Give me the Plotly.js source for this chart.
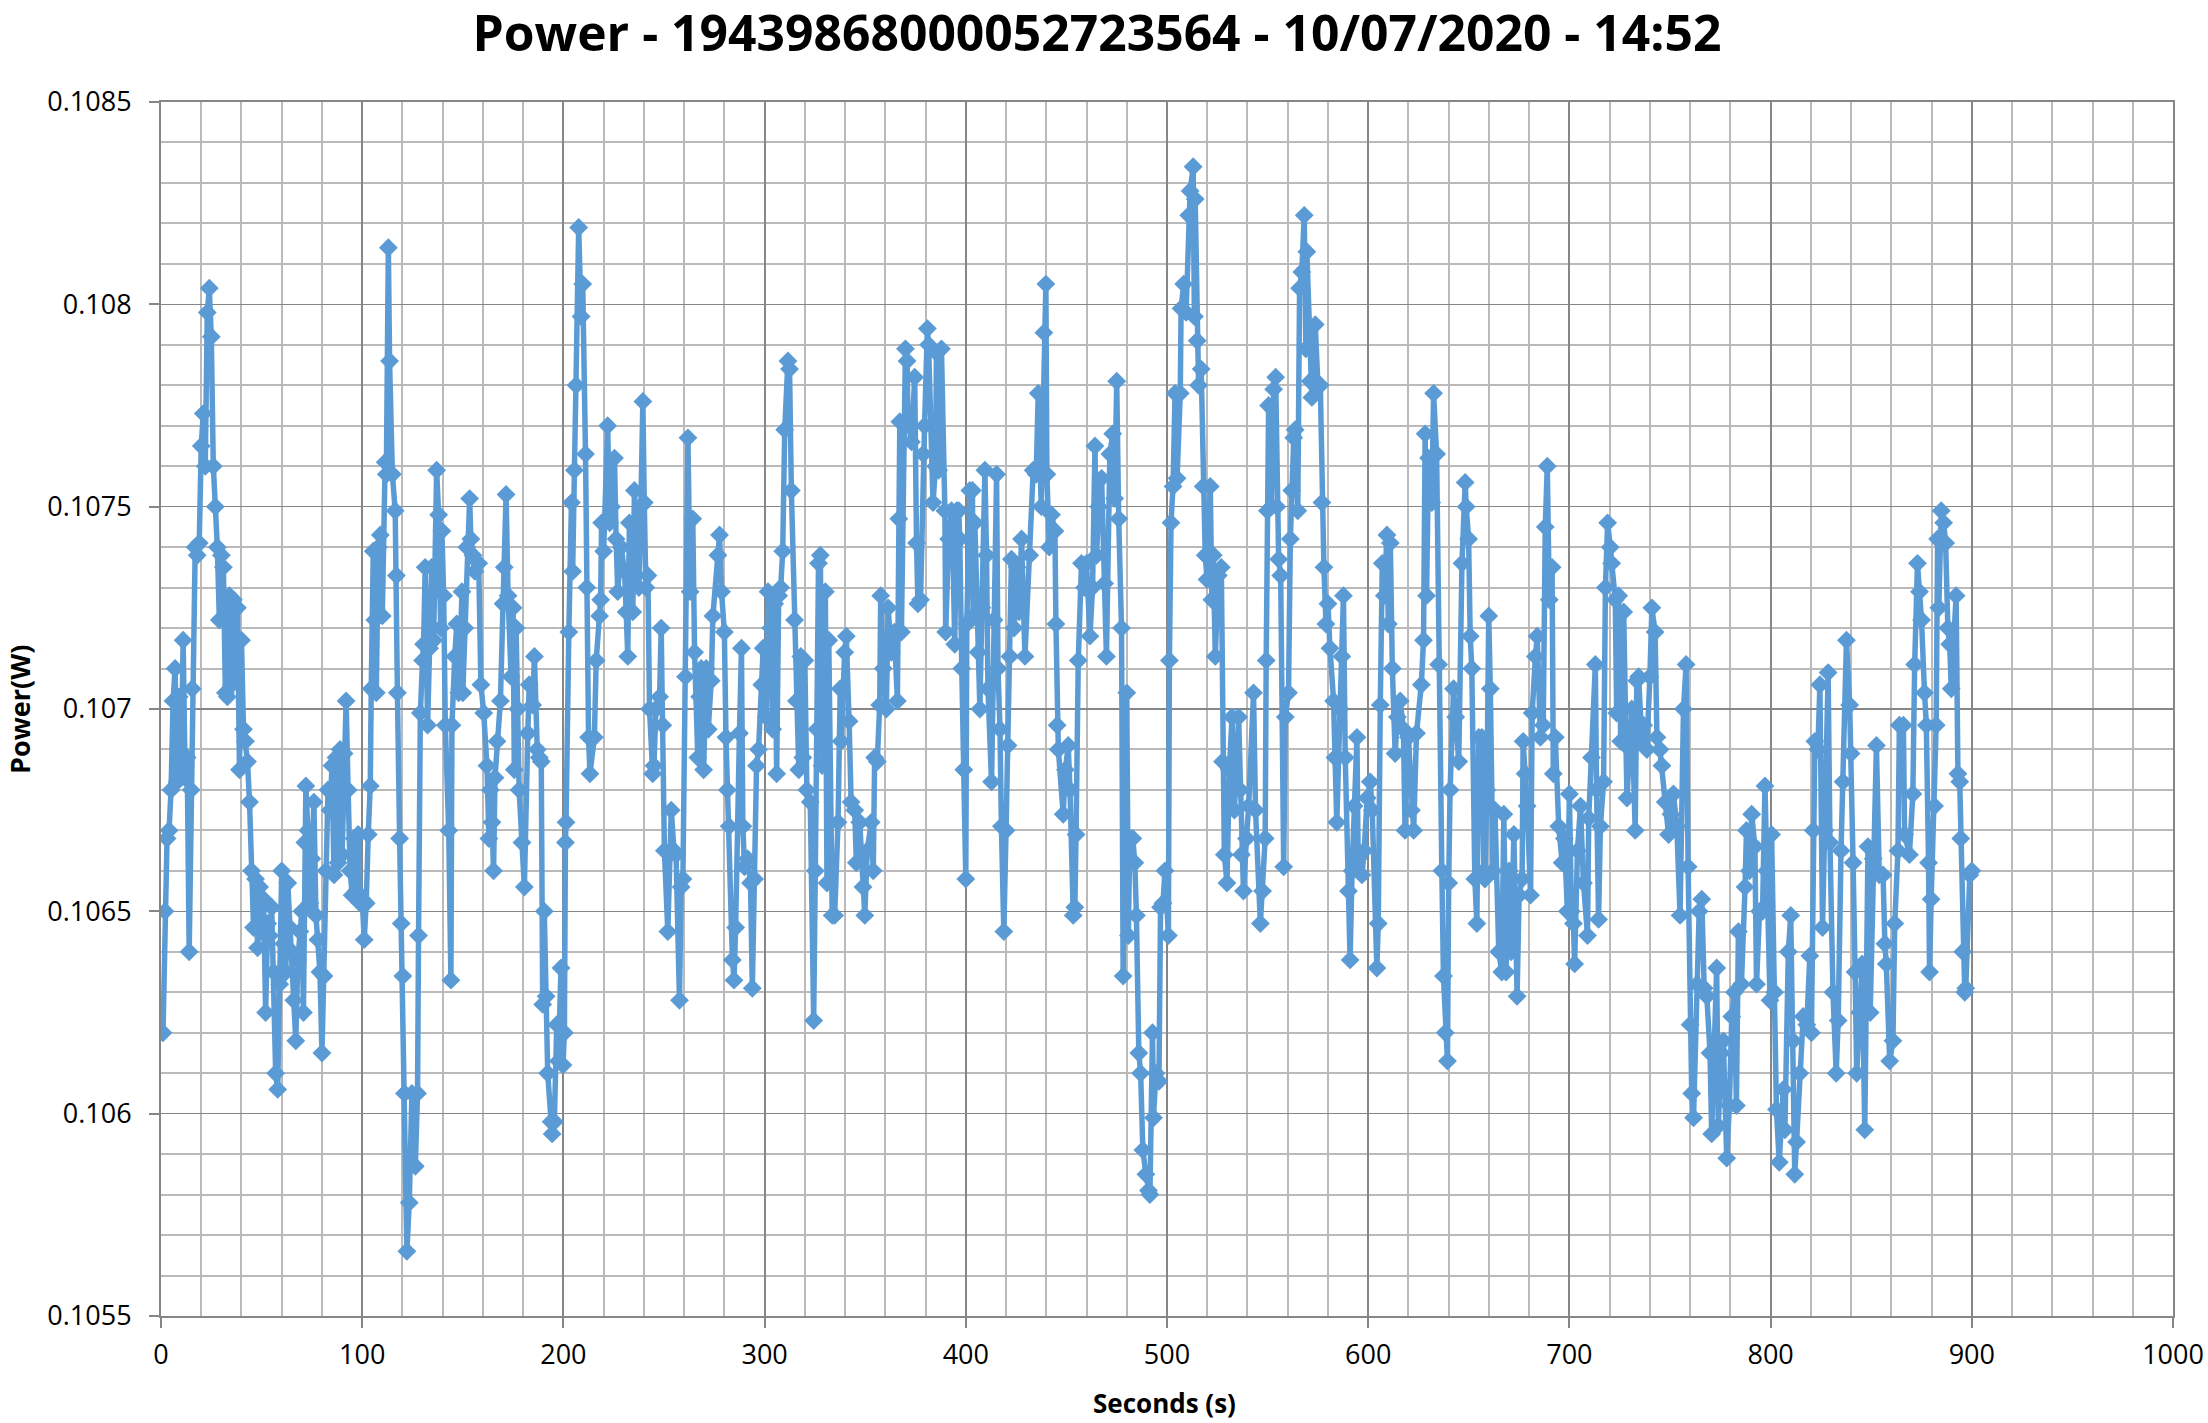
<!DOCTYPE html>
<html><head><meta charset="utf-8">
<script src="https://cdn.plot.ly/plotly-3.0.1.min.js"></script>
<style>html,body{margin:0;padding:0;background:#fff}#c{width:2208px;height:1423px}</style>
</head><body><div id="c"></div>
<script>
const chartTitle = "Power - 19439868000052723564 - 10/07/2020 - 14:52";
const xLabel = "Seconds (s)";
const yLabel = "Power(W)";
const secA=[1,2,3,4,5,6,7,8,9,10,11,12,13,14,15,15.5,17,18,19,20,21,22,23,24,25,26,27,28,29,30,31,32,33,34,35,36,37,38,39,40,41,42,43,44,45,46,47,48,49,50,51,52,53,54,55,56,57,58,59,60,61,62,63,64,65,66,67,68,69,70,70.8,71.5,72,73,74,75,76,77,78,79,80,81,82,83,84,85,86,87,88,89,90,91,92,93,94,95,96,97,98,99,100];
const powA=[1062,1065,1066.8,1067,1068,1070.2,1071,1068.2,1070.3,1068.5,1071.7,1068.3,1068.8,1064,1068,1070.5,1074,1073.8,1074.1,1076.5,1077.3,1076,1079.8,1080.4,1079.2,1076,1075,1074,1072.2,1073.8,1073.5,1070.4,1070.3,1072.8,1070.6,1072.7,1070.9,1072.5,1068.5,1071.7,1069.5,1069.2,1068.7,1067.7,1066,1064.6,1065.8,1064.1,1065.6,1064.5,1065.3,1062.5,1064.7,1064.4,1065.1,1063.5,1061,1060.6,1063.2,1066,1064.2,1063.5,1065.7,1064.6,1064,1062.8,1061.8,1063.8,1064.5,1065,1062.5,1066.7,1068.1,1067,1065.2,1066.3,1067.7,1064.9,1064.3,1063.5,1061.5,1063.4,1066,1068,1067.5,1068.6,1065.9,1068.8,1066.2,1069,1066.4,1068.9,1070.2,1068,1066,1065.4,1066.8,1065.5,1066.9,1065.2,1065.3];
const secB=[101,102,103,104,104.5,105.5,106.3,107,108,109,110,111.4,112,113,113.6,115,116.4,117,117.5,118.6,119.4,120.2,121,122.2,123.4,124.7,126.4,127.5,128,128.9,130,130.5,131.3,132.5,133.5,134.5,135.5,137,138,139,139.6,140.5,141.3,143,144.1,144.6,146,147,148,149.6,150,151,152,153.4,154,155,156,157.9,159,160.4,162,163,163.7,164.5,165.3,166,167,168.7,170,170.6,171.5,172.5,174,175,175.6,176.5,177.3,178,179.4,180.6,182.3,183,184.7,185.6,187,188,189,189.7,190.5,191.4,192.2,193.9,194.4,195.5,196.7,197.5,198.8,199.8];
const powB=[1064.3,1065.2,1066.9,1068.1,1070.5,1073.9,1072.2,1070.4,1074,1074.3,1072.3,1076.1,1075.8,1081.4,1078.6,1075.8,1074.9,1073.3,1070.4,1066.8,1064.7,1063.4,1060.5,1056.6,1057.8,1060.5,1058.7,1060.5,1064.4,1069.9,1071.2,1071.6,1073.5,1069.6,1071.5,1073.5,1071.7,1075.9,1074.8,1072,1074.4,1072.8,1069.6,1067,1063.3,1069.6,1071.3,1072.1,1070.4,1072.9,1070.4,1072,1074,1075.2,1074.2,1073.8,1073.4,1073.6,1070.6,1069.9,1068.6,1066.8,1068,1067.2,1066,1068.3,1069.2,1070.2,1072.6,1073.5,1075.3,1072.8,1070.8,1072.5,1068.5,1072,1070,1068,1066.7,1065.6,1069.4,1070.6,1070.1,1071.3,1069,1068.8,1068.7,1062.7,1065,1062.9,1061,1059.8,1059.5,1059.8,1062.2,1061.3,1063.6,1061.2];
const secC=[200.5,201,201.3,202.7,204,204.6,205.5,206.3,207.6,208.8,209.6,211,211.6,212.5,213.2,215.4,216.3,218,218.5,219,220,222,223,224,225.4,226.2,227,228.7,230.4,231.2,232,232.8,234.5,235.3,236,237.5,238.5,239.5,240.2,241,242,242.8,244.4,245,246,247.8,248.6,249.4,250.2,251.9,252.8,253.6,255,256,257.7,258.5,259.4,260.7,261.9,263,264.3,265.2,266.8,267.7,268.5,269.7,271,272,273.5,274.3,276.8,277.6,278.6,280,280.8,281.5,282.4,284,284.8,285.6,287.5,288.5,289.2,290,291.5,293,293.9,295,296,297,298.6,299.3];
const powC=[1062,1066.7,1067.2,1071.9,1075.1,1073.4,1075.9,1078,1081.9,1079.7,1080.5,1076.3,1073,1069.3,1068.4,1069.3,1071.2,1072.3,1072.7,1074.6,1073.9,1077,1074.6,1075,1076.2,1074.2,1072.9,1074,1073.4,1072.4,1071.3,1074.6,1072.4,1075.4,1074.6,1073,1075,1077.6,1075.1,1073,1073.3,1070,1068.4,1068.6,1070,1070.3,1072,1069.6,1066.5,1064.5,1066.4,1067.5,1066.5,1066.4,1062.8,1065.6,1065.8,1070.8,1076.7,1072.9,1074.7,1071.4,1068.8,1070.3,1071,1068.5,1071,1069.5,1070.7,1072.3,1073.8,1074.3,1072.9,1071.9,1069.3,1068,1067.1,1063.8,1063.3,1064.6,1069.4,1071.5,1067.1,1066.1,1066.3,1065.7,1063.1,1065.8,1068.6,1069,1070.6,1071.5];
const secD=[300.8,301.7,303,304,305,306,307,308,309,310,311.6,312.4,313.3,314.9,315.8,317,318,319,320,321,322.7,324.4,325.2,326,326.8,327.7,328.6,330.2,331,331.9,333.6,334.8,336.5,337.6,338,339.8,340.6,342,343,344.8,345.6,347.3,348.9,349.8,351,353,354,354.7,356,357.2,357.7,359,360.5,361.4,363,364.5,366,366.7,367.2,368,370,370.8,371.3,373,374.6,375.5,376.2,377.5,378.8,379.5,380.9,381.5,383.7,385,385.4,386.5,387.9,389.6,390,391.5,392.9,393.5,394.5,395.5,396.5,397,398,399];
const powD=[1069.8,1072.9,1072,1069.5,1072.6,1068.4,1072.8,1073,1073.9,1076.9,1078.6,1078.4,1075.4,1072.2,1070.2,1068.5,1071.3,1068.8,1071.2,1068,1067.7,1062.3,1066,1069.5,1073.6,1073.8,1068.6,1072.9,1065.7,1071.7,1064.9,1064.9,1067.2,1070.5,1069.2,1071.4,1071.8,1069.7,1067.7,1067.5,1066.2,1067.2,1065.6,1064.9,1066.5,1067.2,1066,1068.8,1068.7,1070.1,1072.8,1071,1070,1072.5,1071.4,1071.9,1070.2,1074.7,1077.1,1071.9,1078.9,1078.6,1077.1,1076.6,1078.2,1074.1,1072.6,1072.7,1076.3,1077,1079.4,1079,1075.1,1076,1078.8,1075.9,1078.9,1074.9,1071.9,1074.2,1074.9,1074.2,1071.6,1074.9,1074.9,1074.2,1071,1068.5];
const secE=[400,400.5,402,403.3,403.6,404.5,406.1,407,408,409.5,410.3,411,412.8,414,415.3,416,417,417.7,418.9,420,421,421.9,422.7,424,425.5,426.5,427.7,429.4,431.8,433.5,435,436,437.5,438.8,439.8,440.3,441.5,442.6,444.3,444.8,445.4,446,448.4,449.5,450.9,451.8,453.4,454.2,454.8,455.9,457.5,459,460,461.7,463,464.2,465,466,467.5,469,469.9,471.6,473,474,475,476,477.4,478.2,480,480.8,481.5,483,484,484.8,486,486.9,488,489.5,490.8,491.5,492.8,493.3,494.5,496,496.8,498,499];
const powE=[1065.8,1072.1,1075.4,1075.4,1072.3,1074.6,1071.4,1070,1072.5,1075.9,1073.8,1070.5,1068.2,1072.2,1075.8,1071,1069.5,1067.1,1064.5,1067,1069.1,1071.3,1073.7,1072,1073.5,1072.4,1074.2,1071.3,1073.8,1075.9,1075.8,1077.8,1075,1079.3,1080.5,1075.8,1074,1074.8,1074.4,1072.1,1069.6,1069,1067.4,1068.5,1069.1,1068,1064.9,1065.1,1066.9,1071.2,1073.6,1073,1073.6,1071.8,1073,1076.5,1073.8,1075,1075.7,1073.1,1071.3,1076.3,1076.8,1075.2,1078.1,1074.7,1072,1063.4,1070.4,1064.4,1066.8,1066.8,1066.2,1064.9,1061.5,1061,1059.1,1058.5,1058.1,1058,1062,1059.9,1061,1060.8,1065.1,1065.2,1066];
const secF=[500.7,501.2,502,503,504,505,506.6,507,508.3,509.5,510.8,511.5,513,513.6,514,515,515.7,517,518,519,519.9,521.5,522.3,523,524,525.5,527,527.6,528.5,529.8,531,532.3,533.5,535.6,536.4,537,538,539.5,540.6,543,544,546.4,547.5,548.8,549.3,549.9,550.5,552,553,554,554.6,555.5,556.5,558,558.8,560.4,561.3,562,563,563.7,565,565.9,567,568.2,569,569.5,571.2,572,573.7,575,576.2,577,578,579,580,581,582.8,583.5,584.4,586,586.9,587.7,588.6,590.2,591,592,593,594.4,595,596.9,598,599.5];
const powF=[1064.4,1071.2,1074.6,1075.5,1077.8,1075.7,1077.8,1079.9,1080.5,1079.8,1082.2,1082.8,1083.4,1079.7,1082.6,1079.1,1078,1078.4,1075.5,1073.8,1073.2,1075.5,1072.7,1073.8,1071.3,1073.3,1073.5,1068.7,1066.4,1065.7,1068.5,1069.8,1067.5,1069.8,1068,1066.4,1065.5,1066.8,1067.6,1070.4,1067.5,1064.7,1065.5,1066.8,1071.2,1074.9,1077.5,1075,1077.9,1078.2,1075,1073.7,1073.3,1066.1,1069.8,1070.4,1074.2,1075.4,1076.7,1076.9,1074.9,1080.4,1080.8,1082.2,1078.9,1081.3,1078.1,1077.7,1079.5,1078,1078,1075.1,1073.5,1072.1,1072.6,1071.5,1070.2,1068.8,1067.2,1070,1071.3,1072.8,1068.8,1065.5,1063.8,1066,1067.6,1069.3,1066.3,1065.9,1066.5,1067.8];
const secG=[601,602,604.3,605,606,607,608,609.3,610,611,612,613.4,614.5,615.9,617.5,618.3,620,621.5,622.6,624,626.4,627.5,628.3,629,630,631.6,632.5,634,635,636.6,637.4,638.3,639.4,640,640.7,642.4,643.5,645,646.6,648.2,648.7,649.9,650.7,651.5,653,654,655,656.5,657.5,658,659,659.9,660.7,662,663,664.9,666.4,667.4,668.5,670,671,672.4,674,675,676.5,677,678,679,680.7,681.5,683.1,684,685.6,687,688,689,690,691.4,692,693,694.7,696.4,697.5,699];
const powG=[1068.2,1067.5,1063.6,1064.7,1070.1,1073.6,1072.8,1074.3,1072.1,1074.1,1071,1068.9,1069.8,1070.2,1069.5,1067,1069.3,1067.5,1067,1069.4,1070.6,1071.7,1076.8,1072.8,1076.2,1075.1,1077.8,1076.3,1071.1,1066,1063.4,1062,1061.3,1065.7,1068,1070.5,1069.8,1068.7,1073.6,1075.6,1075,1074.2,1071.8,1071,1065.8,1064.7,1069.3,1069.3,1066,1065.8,1068,1072.3,1070.5,1066,1067.5,1064,1063.5,1067.4,1063.5,1066,1064,1066.9,1062.9,1065.4,1065.8,1069.2,1068.4,1067.6,1065.4,1069.9,1071.3,1071.8,1069.3,1069.6,1074.5,1076,1072.7,1073.5,1068.4,1069.3,1067.1,1066.2,1066.8,1065];
const secH=[700,701,702,702.6,704,705.5,707,709,709.6,711,712.9,713.5,714.5,715.4,717,717.9,719,720.3,721,722.8,723.5,724.5,725.5,727,728.6,730,731,732.7,733.5,734.4,736,736.9,738.5,740,741,742.6,743.5,745,746,747.6,749.3,750.5,751.7,753.4,755,756.7,758,759,760,760.8,761.7,763.4,764.5,765.8,767,768.3,769.9,770.7,772,773.2,774,775.5,776.5,778.2,779.5,780.7,782,783,784,785.5,787.3,788,789.5,790.6,792.2,793,794.5,796,797.2,798,799.7];
const powH=[1067.9,1065,1064.7,1063.7,1066.5,1067.6,1065.7,1064.4,1067.3,1068.8,1071.1,1068,1064.8,1067.1,1068.2,1073,1074.6,1074,1073.6,1072.7,1069.9,1072.8,1069.2,1072.4,1067.8,1069,1070,1067,1070.7,1070.8,1069.2,1069.6,1069,1070.8,1072.5,1071.9,1069.3,1069,1068.6,1067.7,1066.9,1067.4,1067.9,1067.1,1064.9,1070,1071.1,1066.1,1062.2,1060.5,1059.9,1063.2,1065,1065.3,1063.1,1062.9,1061.5,1059.5,1061.5,1063.6,1059.7,1061.5,1061.8,1058.9,1060.2,1062.4,1063,1060.2,1064.5,1063.2,1065.6,1067,1066,1067.4,1066.6,1063.2,1065,1065,1068.1,1066,1062.8];
const secI=[800.5,802,802.9,804.3,806.3,807.1,808.8,810,811.2,812,812.9,814.5,816.2,818,819.5,820.3,821.2,822,823.5,824.5,825.8,827,828.6,829.5,831,832.6,833.6,835,836,837.7,839.3,840,841,842,842.8,844.3,845.5,846.8,848.4,849.5,851,852.6,854,855.9,856.8,857.5,859.2,860.8,861.7,863.3,864,866,866.6,869,870.7,871.6,873,874,875,876.5,877.4,878.5,879,879.8,881.5,882.3,883,883.6,884.8,886,887,888.1,889,889.8,892.2,893.1,894,894.5,895.5,896.5,897,899,900];
const powI=[1066.9,1063,1060.1,1058.8,1060.6,1059.6,1064,1064.9,1061.8,1058.5,1059.3,1061,1062.4,1062.2,1063.9,1062,1067,1069.2,1069,1070.6,1064.6,1067,1070.9,1066.7,1063,1061,1062.3,1066.5,1068.2,1071.7,1070.1,1068.9,1066.2,1063.5,1061,1062.5,1063.7,1059.6,1066.6,1062.5,1066.3,1069.1,1065.9,1065.9,1064.2,1063.7,1061.3,1061.8,1064.7,1066.5,1069.6,1069.6,1066.9,1066.4,1067.9,1071.1,1073.6,1072.9,1072.2,1070.4,1069.6,1066.2,1063.5,1065.3,1067.6,1069.6,1074.2,1072.5,1074.9,1074.6,1074.1,1072,1071.6,1070.5,1072.8,1068.4,1068.2,1066.8,1064,1063,1063.1,1065.9,1066];
const seconds=[].concat(secA,secB,secC,secD,secE,secF,secG,secH,secI);
const powerUnits=[].concat(powA,powB,powC,powD,powE,powF,powG,powH,powI);
const power=powerUnits.map(v=>v*1e-4);
const MAJOR="#868686", MINOR="#BABABA", BLUE="#5B9BD5", FONT="'Open Sans',sans-serif";
const tickFont={family:FONT,size:27,color:"#000"};
Plotly.newPlot("c",[{
  x:seconds,y:power,type:"scatter",mode:"lines+markers",
  line:{color:BLUE,width:5.5},
  marker:{symbol:"diamond",size:14.5,color:BLUE},
  hoverinfo:"skip",showlegend:false
}],{
  width:2208,height:1423,paper_bgcolor:"#fff",plot_bgcolor:"#fff",showlegend:false,
  margin:{l:161,r:35,t:101.5,b:107,pad:0},
  title:{text:"<b>"+chartTitle+"</b>",font:{family:FONT,size:49.8,color:"#000"},x:0.4968,xanchor:"center",xref:"container",y:0.989,yanchor:"top"},
  annotations:[
    {text:"<b>"+xLabel+"</b>",xref:"paper",yref:"paper",x:0.499,y:-0.072,xanchor:"center",yanchor:"middle",showarrow:false,font:{family:FONT,size:26,color:"#000"}},
    {text:"<b>"+yLabel+"</b>",xref:"paper",yref:"paper",x:-0.0706,y:0.5,xanchor:"center",yanchor:"middle",textangle:-90,showarrow:false,font:{family:FONT,size:27,color:"#000"}}
  ],
  xaxis:{range:[0,1000],dtick:100,tick0:0,showgrid:true,gridcolor:MAJOR,gridwidth:2,
    minor:{dtick:20,showgrid:true,gridcolor:MINOR,gridwidth:2,ticks:""},
    zeroline:false,showline:true,linecolor:MAJOR,linewidth:2,mirror:true,ticks:"outside",ticklen:10,tickwidth:2,tickcolor:MAJOR,tickfont:tickFont,ticklabelstandoff:4,automargin:false},
  yaxis:{range:[0.1055,0.1085],dtick:0.0005,tick0:0.1055,showgrid:true,gridcolor:MAJOR,gridwidth:1.5,
    minor:{dtick:0.0001,showgrid:true,gridcolor:MINOR,gridwidth:2,ticks:""},
    zeroline:false,showline:true,linecolor:MAJOR,linewidth:2,mirror:true,ticks:"outside",ticklen:10,tickwidth:2,tickcolor:MAJOR,tickfont:tickFont,ticklabelstandoff:12,automargin:false}
},{staticPlot:true,displayModeBar:false});
</script></body></html>
